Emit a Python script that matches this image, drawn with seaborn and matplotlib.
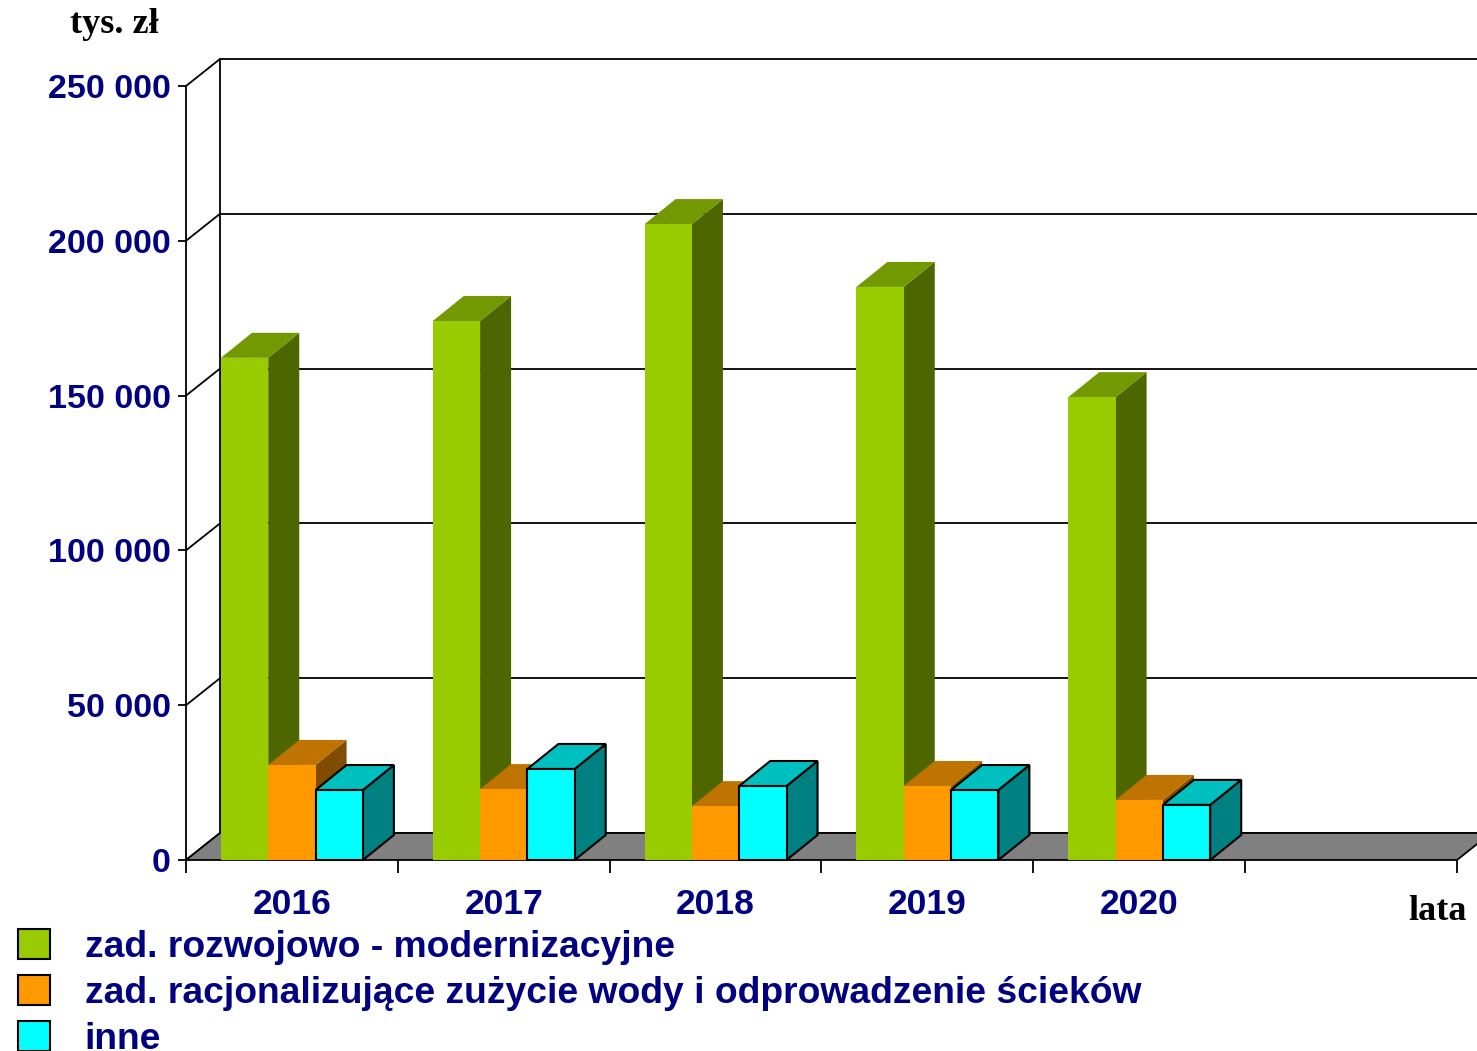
import pandas as pd
import matplotlib
matplotlib.use('Agg')
import matplotlib.pyplot as plt
from matplotlib.patches import Polygon, Patch
import seaborn as sns

# Values (thousand PLN)
years = ['2016', '2017', '2018', '2019', '2020']
categories = ['zad. rozwojowo - modernizacyjne',
              'zad. racjonalizujące zużycie wody i odprowadzenie ścieków',
              'inne']
rozwojowe = [162200, 174100, 205400, 185100, 149500]
racjonalizujace = [30700, 22900, 17400, 23900, 19400]
inne = [22600, 29400, 23900, 22600, 17800]
y_ticks = [0, 50000, 100000, 150000, 200000, 250000]

df = pd.DataFrame({
    'rok': years * 3,
    'kategoria': [categories[0]] * 5 + [categories[1]] * 5 + [categories[2]] * 5,
    'wartosc': rozwojowe + racjonalizujace + inne,
})

# front / side / top shades, like the old 3D office chart
front = ['#99CC00', '#FF9900', '#00FFFF']
side = ['#4D6600', '#804D00', '#008080']
top = ['#739900', '#BF7300', '#00BFBF']
navy = '#000080'

sns.set_style('white')
plt.rcParams['font.family'] = ['Liberation Sans', 'DejaVu Sans']

fig = plt.figure(figsize=(14.77, 10.51), dpi=100)
W, H = 1477, 1051
ax = fig.add_axes([186 / W, (H - 860) / H, 1271 / W, 774 / H])

order = years + [' ']
sns.barplot(data=df, x='rok', y='wartosc', hue='kategoria', order=order,
            hue_order=categories, palette=front, width=0.67, saturation=1,
            linewidth=0, legend=False, ax=ax)
ax.set_xlim(-0.5, len(order) - 0.5)
ax.set_ylim(0, 250000)

# depth offsets in axes fraction
ax_w, ax_h = 1271, 774
wdx, wdy = 34 / ax_w, 27 / ax_h
bdx, bdy = 31 / ax_w, 25 / ax_h
to_ax = ax.transLimits.transform

# back wall, gridlines and left wall
wall = Polygon([(wdx, wdy), (1 + wdx, wdy), (1 + wdx, 1 + wdy), (wdx, 1 + wdy)],
               closed=True, facecolor='white', edgecolor='none',
               transform=ax.transAxes, clip_on=False, zorder=0.2)
ax.add_patch(wall)
for t in y_ticks:
    fy = to_ax((0, t))[1]
    ax.plot([wdx, 1 + wdx], [fy + wdy, fy + wdy], color='black', lw=1.3,
            transform=ax.transAxes, clip_on=False, zorder=0.4)
    ax.plot([0, wdx], [fy, fy + wdy], color='black', lw=1.3,
            transform=ax.transAxes, clip_on=False, zorder=0.4)
ax.plot([wdx, wdx], [wdy, 1 + wdy], color='black', lw=1.3,
        transform=ax.transAxes, clip_on=False, zorder=0.4)

# floor
floor = Polygon([(0, 0), (1, 0), (1 + wdx, wdy), (wdx, wdy)], closed=True,
                facecolor='#808080', edgecolor='black', lw=1.3,
                transform=ax.transAxes, clip_on=False, zorder=0.6)
ax.add_patch(floor)

# side and top faces of every bar
for i, cont in enumerate(ax.containers):
    edge = 'black' if i == 2 else 'none'
    for bar in cont:
        x0, y0 = to_ax((bar.get_x(), 0))
        x1, y1 = to_ax((bar.get_x() + bar.get_width(), bar.get_height()))
        z = 2 + 3 * i
        ax.add_patch(Polygon([(x1, y0), (x1, y1), (x1 + bdx, y1 + bdy), (x1 + bdx, y0 + bdy)],
                             closed=True, facecolor=side[i], edgecolor=edge, lw=1.5,
                             transform=ax.transAxes, clip_on=False, zorder=z))
        ax.add_patch(Polygon([(x0, y1), (x1, y1), (x1 + bdx, y1 + bdy), (x0 + bdx, y1 + bdy)],
                             closed=True, facecolor=top[i], edgecolor=edge, lw=1.5,
                             transform=ax.transAxes, clip_on=False, zorder=z + 1))
        bar.set_zorder(z + 2)
        bar.set_clip_on(False)
        if i == 2:
            bar.set_edgecolor('black')
            bar.set_linewidth(1.5)

# axes cosmetics
for s in ['top', 'right', 'bottom']:
    ax.spines[s].set_visible(False)
ax.spines['left'].set_linewidth(1.3)
ax.spines['left'].set_color('black')
ax.spines['left'].set_zorder(20)
ax.set_xlabel('')
ax.set_ylabel('')
ax.set_yticks(y_ticks)
ax.set_yticklabels([f'{v:,}'.replace(',', ' ') for v in y_ticks])
ax.tick_params(axis='y', direction='out', length=6, width=1.3, color='black',
               pad=5, labelsize=24.5, labelcolor=navy, left=True)
ax.set_xticks(range(len(order)))
ax.set_xticklabels(order)
ax.set_xticks([k - 0.5 for k in range(len(order) + 1)], minor=True)
ax.tick_params(axis='x', which='major', length=0, pad=20, labelsize=25.5,
               labelcolor=navy, bottom=True)
ax.tick_params(axis='x', which='minor', direction='out', length=9, width=1.3,
               color='black', bottom=True)
for lab in ax.get_xticklabels() + ax.get_yticklabels():
    lab.set_fontweight('bold')

fig.text(70 / W, 1 - 33 / H, 'tys. zł', family=['Liberation Serif', 'DejaVu Serif'],
         fontweight='bold', fontsize=26, color='black', ha='left', va='baseline')
fig.text(1467 / W, 1 - 920 / H, 'lata', family=['Liberation Serif', 'DejaVu Serif'],
         fontweight='bold', fontsize=26, color='black', ha='right', va='baseline')

handles = [Patch(facecolor=c, edgecolor='black', lw=1.5) for c in front]
leg = fig.legend(handles=handles, labels=categories, loc='upper left',
                 bbox_to_anchor=(18 / W, 1 - 929 / H), frameon=False,
                 prop={'weight': 'bold', 'size': 26.8}, labelcolor=navy,
                 handlelength=0.86, handleheight=0.86, handletextpad=0.93,
                 labelspacing=0.27, borderaxespad=0, borderpad=0)

fig.savefig('out.png', dpi=100)
